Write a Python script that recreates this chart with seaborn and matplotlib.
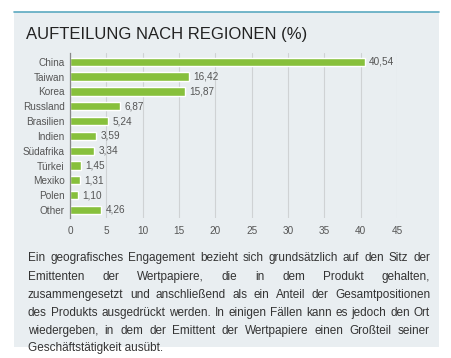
import matplotlib
matplotlib.use("Agg")
import matplotlib.pyplot as plt
import seaborn as sns
import pandas as pd
from matplotlib.patches import Rectangle
from matplotlib.lines import Line2D

regions = ["China", "Taiwan", "Korea", "Russland", "Brasilien", "Indien",
           "Südafrika", "Türkei", "Mexiko", "Polen", "Other"]
weights = [40.54, 16.42, 15.87, 6.87, 5.24, 3.59, 3.34, 1.45, 1.31, 1.10, 4.26]
x_ticks = [0, 5, 10, 15, 20, 25, 30, 35, 40, 45]

title = "AUFTEILUNG NACH REGIONEN (%)"
note_lines = [
    "Ein geografisches Engagement bezieht sich grundsätzlich auf den Sitz der",
    "Emittenten der Wertpapiere, die in dem Produkt gehalten,",
    "zusammengesetzt und anschließend als ein Anteil der Gesamtpositionen",
    "des Produkts ausgedrückt werden. In einigen Fällen kann es jedoch den Ort",
    "wiedergeben, in dem der Emittent der Wertpapiere einen Großteil seiner",
    "Geschäftstätigkeit ausübt.",
]

df = pd.DataFrame({"region": regions, "weight": weights})

sns.set_style("white")
plt.rcParams["font.family"] = ["Liberation Sans", "DejaVu Sans"]

W, H = 452, 358
bg = "#e9eef1"
green = "#87c03c"
txt = "#555555"

fig = plt.figure(figsize=(W / 100, H / 100), dpi=100)
fig.patch.set_facecolor("white")

# panel background and top rule
fig.patches.append(Rectangle((14 / W, 1 - 347 / H), 425 / W, 335 / H,
                             transform=fig.transFigure, facecolor=bg,
                             edgecolor="none", zorder=-5))
fig.lines.append(Line2D([14 / W, 439 / W], [1 - 12 / H, 1 - 12 / H],
                        transform=fig.transFigure, color="#5ba9c0", lw=1.2))

fig.text(26 / W, 1 - 35 / H, title, fontsize=12.0, color="#222222",
         va="center", ha="left")

ax = fig.add_axes([70 / W, 1 - 218 / H, 327 / W, 165 / H])
ax.set_facecolor("none")
sns.barplot(data=df, x="weight", y="region", orient="h", color=green,
            width=0.56, saturation=1, ax=ax)

ax.set_xlim(0, 45)
ax.set_ylim(10.54, -0.59)
ax.set_xticks(x_ticks)
ax.set_xticklabels([str(t) for t in x_ticks])
ax.xaxis.grid(True, color="#cfd2d4", lw=0.8)
ax.set_axisbelow(True)
ax.set_xlabel("")
ax.set_ylabel("")
for s in ["top", "right", "bottom"]:
    ax.spines[s].set_visible(False)
ax.spines["left"].set_color("#888888")
ax.spines["left"].set_linewidth(0.9)
ax.tick_params(axis="both", length=0, labelsize=7.2, labelcolor=txt)
ax.tick_params(axis="x", pad=6)
ax.tick_params(axis="y", pad=4)

for i, v in enumerate(weights):
    ax.text(v + 0.6, i, f"{v:.2f}".replace(".", ","), va="center",
            ha="left", fontsize=7.2, color=txt)

# justified paragraph
left, right = 28, 430
line_y = [258, 277, 295, 313, 331, 348]
fs = 8.5
fig.canvas.draw()
renderer = fig.canvas.get_renderer()
for k, line in enumerate(note_lines):
    words = line.split(" ")
    y = 1 - line_y[k] / H
    if k == len(note_lines) - 1:
        fig.text(left / W, y, line, fontsize=fs, color="#333333",
                 va="center", ha="left")
        continue
    items = []
    total = 0
    for w in words:
        t = fig.text(0, y, w, fontsize=fs, color="#333333", va="center", ha="left")
        wpx = t.get_window_extent(renderer).width
        items.append((t, wpx))
        total += wpx
    gap = (right - left - total) / (len(words) - 1)
    x = left
    for t, wpx in items:
        t.set_x(x / W)
        x += wpx + gap

fig.savefig("out.png", dpi=100)
